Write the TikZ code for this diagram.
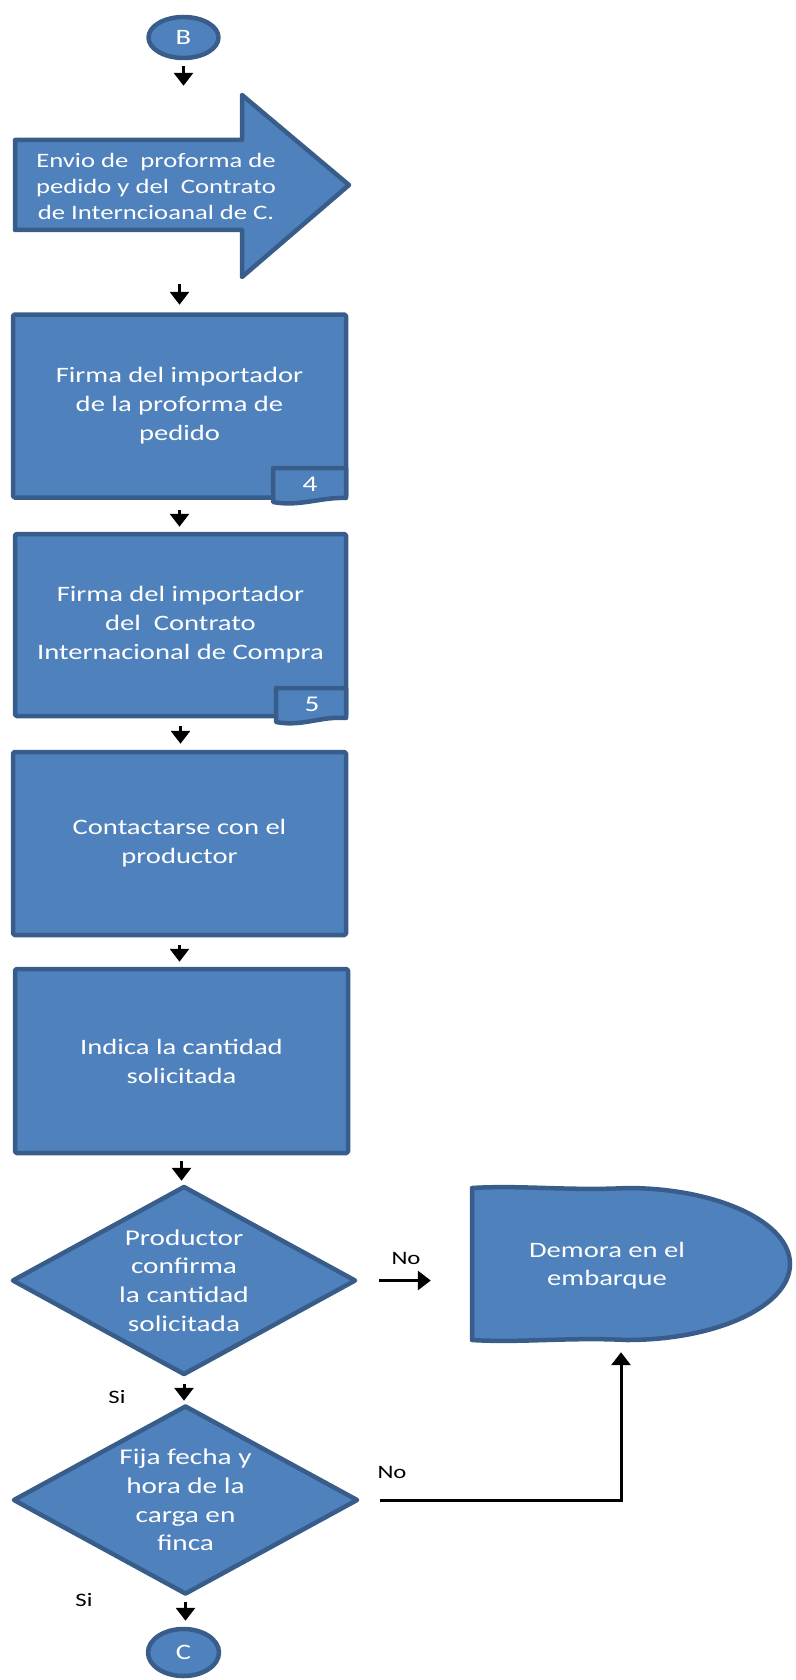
\documentclass[tikz,border=0pt]{standalone}
\usepackage{fontspec}
\setmainfont{Carlito}[FakeStretch=1.3]
\usetikzlibrary{shapes.geometric,arrows.meta}
\definecolor{fillblue}{HTML}{4F81BD}
\definecolor{edgeblue}{HTML}{385D8A}
\begin{document}
\begin{tikzpicture}[x=1pt,y=-1pt,
  shp/.style={fill=fillblue,draw=edgeblue,line width=4.5pt,line join=round,text=white},
  boxnode/.style={shp,rectangle,rounded corners=1.5pt,inner sep=0pt,align=center,font=\fontsize{22}{29}\selectfont},
  decnode/.style={shp,diamond,aspect=1.82,inner sep=0pt,align=center,font=\fontsize{22.5}{28.7}\selectfont},
  connode/.style={shp,ellipse,inner sep=0pt,font=\fontsize{22}{26}\selectfont},
  hit/.style={rectangle,inner sep=0pt},
  wtext/.style={text=white,align=center,inner sep=0pt},
  lbl/.style={text=black,inner sep=0pt,font=\fontsize{19}{22}\selectfont},
  arr/.style={draw=black,line width=3pt,-{Triangle[length=13pt,width=19pt]}}
]
\useasboundingbox (0,0) rectangle (795,1680);

% start connector
\node[connode,minimum width=70pt,minimum height=41pt] (B) at (183.5,37.5) {B};

% big arrow shape
\node[hit,minimum width=340pt,minimum height=188pt] (env) at (183,186) {};
\path[shp] (15,140) -- (242,140) -- (242,95) -- (349,185) -- (242,277) -- (242,230) -- (15,230) -- cycle;
\node[wtext,font=\fontsize{20.5}{26}\selectfont] (envtxt) at (156,186) {Envio de\ \ proforma de\\pedido y del\ \ Contrato\\de Interncioanal de C.};

% box 1
\node[boxnode,minimum width=333pt,minimum height=183pt] (box1) at (179.5,406) {Firma del importador\\de la proforma de\\pedido};
\path[shp] (273,468) -- (346,468) -- (346,498) .. controls (320,497) and (300,507) .. (273,502) -- cycle;
\node[wtext,font=\fontsize{22.5}{26}\selectfont] (n4) at (310,484) {4};

% box 2
\node[boxnode,minimum width=331pt,minimum height=182pt] (box2) at (180.5,625) {Firma del importador\\del\ \ Contrato\\Internacional de Compra};
\path[shp] (276,688) -- (346,688) -- (346,718) .. controls (320,716) and (302,727) .. (276,722) -- cycle;
\node[wtext,font=\fontsize{22.5}{26}\selectfont] (n5) at (312,704) {5};

% box 3
\node[boxnode,minimum width=333pt,minimum height=183pt] (box3) at (179.5,843.5) {Contactarse con el\\productor};

% box 4
\node[boxnode,minimum width=333pt,minimum height=184pt] (box4) at (181.5,1061) {Indica la cantidad\\solicitada};

% decisions
\node[decnode,minimum width=344pt,minimum height=189pt] (d1) at (184,1280.5) {Productor\\confirma\\la cantidad\\solicitada};
\node[decnode,minimum width=345pt,minimum height=189pt] (d2) at (185.5,1500) {Fija fecha y\\hora de la\\carga en\\finca};

% delay shape
\node[hit,minimum width=318pt,minimum height=154pt] (dem) at (631,1264) {};
\path[shp] (472,1188) .. controls (520,1185) and (570,1191) .. (627,1188)
  arc[start angle=-90,end angle=90,x radius=163,y radius=76]
  .. controls (570,1337) and (520,1343) .. (472,1340) -- cycle;
\node[wtext,font=\fontsize{22}{28}\selectfont] (demtxt) at (607,1266) {Demora en el\\embarque};

% end connector
\node[connode,minimum width=71pt,minimum height=47pt] (C) at (183.5,1652.5) {C};

% connectors
\draw[arr,shorten <=6pt,shorten >=6pt] (B.south) -- (B.south |- env.north);
\draw[arr,shorten <=4pt,shorten >=7.5pt] (env.south -| box1.north) -- (box1.north);
\draw[arr,shorten <=10pt,shorten >=5pt] (box1.south) -- (box1.south |- box2.north);
\draw[arr,shorten <=8pt,shorten >=6pt] (box2.south) -- (box2.south |- box3.north);
\draw[arr,shorten <=8pt,shorten >=5pt] (box3.south) -- (box3.south |- box4.north);
\draw[arr,shorten <=6pt,shorten >=3pt] (box4.south) -- (box4.south |- d1.north);
\draw[arr,shorten <=7pt,shorten >=2.5pt] (d1.south) -- (d1.south |- d2.north);
\draw[arr,shorten <=5.5pt,shorten >=6pt] (d2.south) -- (d2.south |- C.north);
\draw[arr,shorten <=21pt,shorten >=41pt] (d1.east) -- (d1.east -| dem.west);
\draw[arr,shorten <=20pt,shorten >=11pt] (d2.east) -| ([xshift=-10pt]dem.south);

% labels
\node[lbl] (si1) at (117,1397) {Si};
\node[lbl] (si2) at (84,1600) {Si};
\node[lbl] (no1) at (406,1258) {No};
\node[lbl] (no2) at (392,1472) {No};
\end{tikzpicture}
\end{document}
